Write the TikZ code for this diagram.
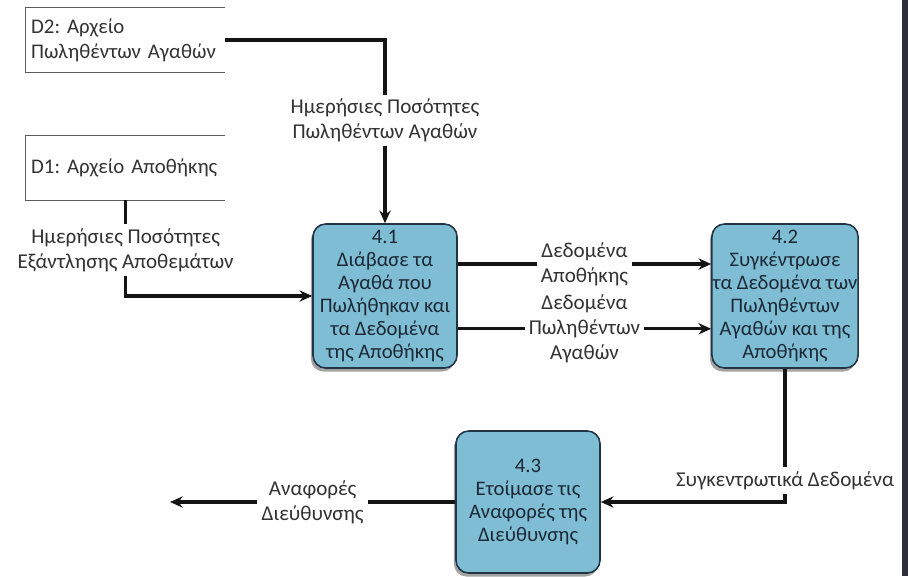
\documentclass[tikz,border=0pt]{standalone}
\usepackage{fontspec}
\setmainfont{Carlito}
\frenchspacing
\definecolor{dfdblue}  {RGB}{126,189,211}
\definecolor{dfdedge}  {RGB}{32,52,70}
\definecolor{dfdtext}  {RGB}{28,40,54}
\definecolor{dfdgray}  {RGB}{50,50,50}
\definecolor{dfdline}  {RGB}{20,20,20}
\definecolor{dfddark}  {RGB}{42,47,56}
\usetikzlibrary{arrows.meta,positioning,shadows,calc}
\newcommand{\dfdfont}{\fontsize{15}{17.8}\selectfont}
\newcommand{\procfont}{\fontsize{14.7}{16.4}\selectfont}
\tikzset{
  proc/.style={rectangle,rounded corners=9pt,draw=dfdedge,line width=1.1pt,
               fill=dfdblue,text=dfdtext,minimum width=3.6cm,minimum height=3.6cm,
               inner sep=0.5pt,font=\procfont,align=center,
               drop shadow={shadow xshift=-1.5pt,shadow yshift=-2.5pt,
                            fill=black!80,opacity=0.45}},
  store/.style={rectangle,minimum width=4.98cm,minimum height=1.6cm,
                text width=4.72cm,inner xsep=0.13cm,align=left,
                font=\fontsize{14.8}{17.8}\selectfont,text=dfdgray},
  storeline/.style={line width=0.8pt,draw=dfdgray!80},
  flow/.style={-{Stealth[length=9pt,width=8pt]},line width=2.4pt,draw=dfdline},
  lbl/.style={fill=white,align=center,font=\dfdfont,text=dfdgray,inner sep=3pt},
}
\begin{document}
\begin{tikzpicture}
    \useasboundingbox (0,0) rectangle (22.7,-14.4);
    \fill[dfddark] (22.55,0) rectangle (22.7,-14.4);

    % data stores
    \node[store] (d2) at (3.14,-1.0) {D2: Αρχείο\\Πωληθέντων Αγαθών};
    \node[store] (d1) at (3.14,-4.2) {D1: Αρχείο Αποθήκης};
    \foreach \s in {d1,d2}
      \draw[storeline] (\s.north east) -- (\s.north west)
                       -- (\s.south west) -- (\s.south east);

    % processes
    \node[proc] (p41) at (9.625,-7.4)
      {4.1\\Διάβασε τα\\Αγαθά που\\Πωλήθηκαν και\\τα Δεδομένα\\της Αποθήκης};
    \node[proc] (p42) at (19.625,-7.4)
      {4.2\\Συγκέντρωσε\\τα Δεδομένα των\\Πωληθέντων\\Αγαθών και της\\Αποθήκης};
    \node[proc,minimum height=3.55cm] (p43) at (13.2,-12.55)
      {4.3\\Ετοίμασε τις\\Αναφορές της\\Διεύθυνσης};
    \coordinate (out) at (4.25,-12.55);

    % flows
    \draw[flow] (d2.east) -| node[lbl,pos=0.72]
      {Ημερήσιες Ποσότητες\\Πωληθέντων Αγαθών} (p41.north);
    \draw[flow] (d1.south) |- node[lbl,pos=0.26]
      {Ημερήσιες Ποσότητες\\Εξάντλησης Αποθεμάτων} (p41.west);
    \draw[flow] ([yshift=0.8cm]p41.east) -- node[lbl]
      {Δεδομένα\\Αποθήκης} ([yshift=0.8cm]p42.west);
    \draw[flow] ([yshift=-0.82cm]p41.east) -- node[lbl]
      {Δεδομένα\\Πωληθέντων\\Αγαθών} ([yshift=-0.82cm]p42.west);
    \draw[flow] (p42.south) |- node[lbl,pos=0.42]
      {Συγκεντρωτικά Δεδομένα} (p43.east);
    \draw[flow] (p43.west) -- node[lbl] {Αναφορές\\Διεύθυνσης} (out);
\end{tikzpicture}
\end{document}
